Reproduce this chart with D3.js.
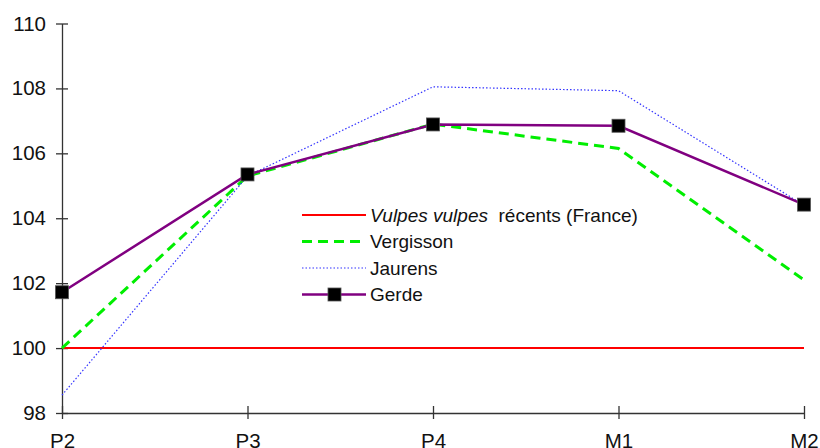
<!DOCTYPE html>
<html>
<head>
<meta charset="utf-8">
<script src="https://cdn.jsdelivr.net/npm/d3@7"></script>
<style>
body { margin: 0; background: #fff; }
text { font-family: "Liberation Sans", Arial, sans-serif; fill: #111; }
</style>
</head>
<body>
<div id="vis"></div>
<script>
// teeth categories and values (index, 100 = recent Vulpes vulpes)
var categories = ["P2", "P3", "P4", "M1", "M2"];
var vulpes = [100, 100, 100, 100, 100];
var vergisson = [100, 105.3, 106.9, 106.15, 102.1];
var jaurens = [98.55, 105.3, 108.05, 107.93, 104.4];
var gerde = [101.72, 105.35, 106.89, 106.85, 104.42];
var yTicks = [98, 100, 102, 104, 106, 108, 110];

var width = 820, height = 448;
var margin = {top: 23.5, right: 16, bottom: 35, left: 62};

var svg = d3.select("#vis")
    .append("svg")
    .attr("width", width)
    .attr("height", height);

var x = d3.scalePoint()
    .domain(categories)
    .range([margin.left, width - margin.right]);

var y = d3.scaleLinear()
    .domain([98, 110])
    .range([height - margin.bottom, margin.top]);

// axes with ticks crossing the line
var yAxis = svg.append("g")
    .attr("transform", "translate(" + margin.left + ",0)")
    .call(d3.axisLeft(y).tickValues(yTicks).tickSize(6).tickSizeOuter(0).tickPadding(10));
yAxis.selectAll(".tick line").attr("x2", 6).attr("x1", -6);

var xAxis = svg.append("g")
    .attr("transform", "translate(0," + y(98) + ")")
    .call(d3.axisBottom(x).tickSize(6).tickSizeOuter(0).tickPadding(14));
xAxis.selectAll(".tick line").attr("y1", -7).attr("y2", 6);

svg.selectAll(".domain, .tick line").attr("stroke", "#333").attr("stroke-width", 1.3);
svg.selectAll(".tick text")
    .style("font-size", "20.5px")
    .style("font-family", "'Liberation Sans', Arial, sans-serif")
    .attr("fill", "#111");

var line = d3.line()
    .x(function(d, i) { return x(categories[i]); })
    .y(function(d) { return y(d); });

var series = [
  {name: "vulpes", values: vulpes, color: "#ff0000", width: 2, dash: null},
  {name: "Vergisson", values: vergisson, color: "#00ee00", width: 3, dash: "10,6"},
  {name: "Jaurens", values: jaurens, color: "#3333ff", width: 1.2, dash: "1.5,2"},
  {name: "Gerde", values: gerde, color: "#800080", width: 2.5, dash: null}
];

series.forEach(function(s) {
  svg.append("path")
    .datum(s.values)
    .attr("fill", "none")
    .attr("stroke", s.color)
    .attr("stroke-width", s.width)
    .attr("stroke-dasharray", s.dash)
    .attr("d", line);
});

svg.selectAll(".marker")
  .data(gerde)
  .enter()
  .append("rect")
  .attr("class", "marker")
  .attr("x", function(d, i) { return x(categories[i]) - 6.5; })
  .attr("y", function(d) { return y(d) - 6.5; })
  .attr("width", 13)
  .attr("height", 13)
  .attr("fill", "#000")
  .attr("stroke", "#555")
  .attr("stroke-width", 0.8);

// legend
var legend = svg.append("g").attr("transform", "translate(302,215)");
var rowH = 26.5;

series.forEach(function(s, i) {
  var g = legend.append("g").attr("transform", "translate(0," + (i * rowH) + ")");
  g.append("line")
    .attr("x1", 0).attr("x2", 64)
    .attr("stroke", s.color)
    .attr("stroke-width", s.width)
    .attr("stroke-dasharray", s.dash);
  if (s.name == "Gerde") {
    g.append("rect")
      .attr("x", 26).attr("y", -6.5)
      .attr("width", 13).attr("height", 13)
      .attr("fill", "#000").attr("stroke", "#555").attr("stroke-width", 0.8);
  }
  var t = g.append("text")
    .attr("x", 68)
    .attr("y", 6.5)
    .style("font-size", "19px");
  if (s.name == "vulpes") {
    t.append("tspan").style("font-style", "italic").text("Vulpes vulpes");
    t.append("tspan").text("\u00a0 récents (France)");
  } else {
    t.text(s.name);
  }
});
</script>
</body>
</html>
